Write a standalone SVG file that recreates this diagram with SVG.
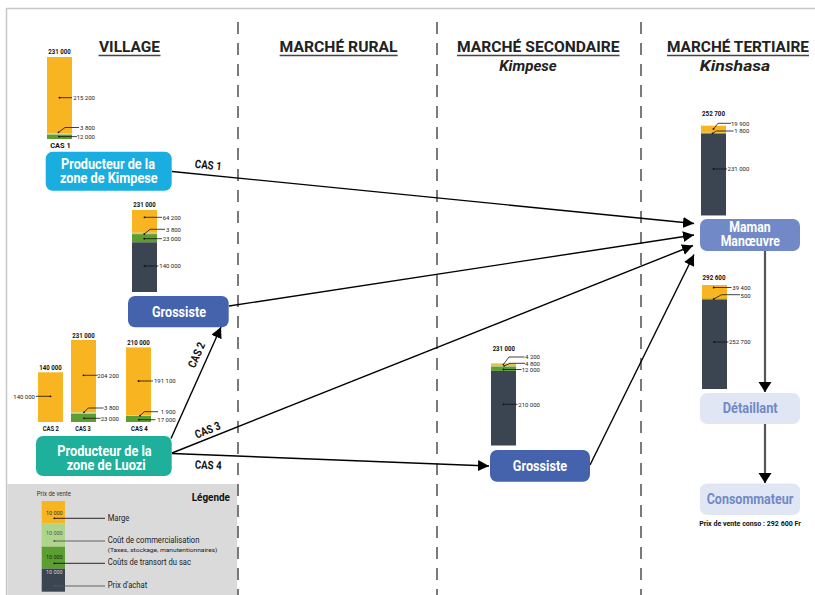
<svg xmlns="http://www.w3.org/2000/svg" width="815" height="595" viewBox="0 0 815 595">
<defs>
<style>
text{font-family:Roboto,"Liberation Sans",sans-serif}
.h{font-weight:700;font-size:15.5px;fill:#222;text-anchor:middle}
.hi{font-weight:700;font-style:italic;font-size:14.5px;fill:#222;text-anchor:middle}
.ul{stroke:#444;stroke-width:1.6}
.nt{font-weight:700;font-size:14px;fill:#fff;text-anchor:middle}
.nl{font-weight:700;font-size:14px;fill:#7189c6;text-anchor:middle}
.num{font-size:6px;fill:#222;text-anchor:end}
.tot{font-size:6.8px;font-weight:700;fill:#111;text-anchor:middle}
.cs{font-size:7px;font-weight:700;fill:#111;text-anchor:middle}
.cas{font-size:11.5px;font-weight:700;fill:#111;text-anchor:middle}
.ld{stroke:#111;stroke-width:0.8;fill:none}
.dt{fill:#111}
.or{fill:#f8b521}
.lg{fill:#afd48c}
.gr{fill:#5c9e31}
.dk{fill:#3b4451}
.dash{stroke:#333;stroke-width:1.3;stroke-dasharray:12 9}
.con{stroke:#000;stroke-width:1.4;fill:none}
.vcon{stroke:#555;stroke-width:2.2;fill:none}
.lt{font-size:8.5px;fill:#222}
.lv{font-size:5.5px;text-anchor:middle}
</style>
<marker id="ah" markerUnits="userSpaceOnUse" markerWidth="12" markerHeight="12" refX="11" refY="5.5" orient="auto" viewBox="0 0 12 12">
<path d="M0,0 L11,5.5 L0,11 z" fill="#000"/>
</marker>
<marker id="ahv" markerUnits="userSpaceOnUse" markerWidth="13" markerHeight="14" refX="10" refY="6.5" orient="auto" viewBox="0 0 13 14">
<path d="M0,0 L10,6.5 L0,13 z" fill="#000"/>
</marker>
</defs>

<rect x="0" y="0" width="815" height="595" fill="#fff"/>
<rect x="6.5" y="8.5" width="830" height="600" fill="#fff" stroke="#c8c8c8" stroke-width="1.5"/>
<rect x="7.2" y="484" width="230" height="112" fill="#dadada"/>

<g id="separators">
<line class="dash" x1="238" y1="22" x2="238" y2="595"/>
<line class="dash" x1="437" y1="22" x2="437" y2="595"/>
<line class="dash" x1="641" y1="22" x2="641" y2="595"/>
</g>

<g id="headers">
<text class="h" x="129.5" y="52" textLength="61" lengthAdjust="spacingAndGlyphs">VILLAGE</text>
<line class="ul" x1="98.5" y1="55.5" x2="160.5" y2="55.5"/>
<text class="h" x="338.6" y="52" textLength="118" lengthAdjust="spacingAndGlyphs">MARCHÉ RURAL</text>
<line class="ul" x1="279.6" y1="55.5" x2="397.7" y2="55.5"/>
<text class="h" x="538.3" y="52" textLength="162.5" lengthAdjust="spacingAndGlyphs">MARCHÉ SECONDAIRE</text>
<line class="ul" x1="457" y1="55.5" x2="619.5" y2="55.5"/>
<text class="hi" x="528" y="70.5" textLength="57.5" lengthAdjust="spacingAndGlyphs">Kimpese</text>
<text class="h" x="738" y="52" textLength="142" lengthAdjust="spacingAndGlyphs">MARCHÉ TERTIAIRE</text>
<line class="ul" x1="667" y1="55.5" x2="809" y2="55.5"/>
<text class="hi" x="735" y="70.5" textLength="70.5" lengthAdjust="spacingAndGlyphs">Kinshasa</text>
</g>

<g id="bar-cas1">
<rect class="or" x="47" y="57" width="25" height="76.4"/>
<rect class="lg" x="47" y="133.4" width="25" height="1.35"/>
<rect class="gr" x="47" y="134.75" width="25" height="4.25"/>
<text class="tot" x="59.5" y="54" textLength="22.3" lengthAdjust="spacingAndGlyphs">231 000</text>
<text class="cs" x="60.5" y="148" textLength="20.6" lengthAdjust="spacingAndGlyphs">CAS 1</text>
<circle class="dt" cx="59.5" cy="97.7" r="0.9"/><path class="ld" d="M59.5,97.7 H72"/>
<text class="num" x="95" y="100">215 200</text>
<circle class="dt" cx="58.5" cy="132.3" r="0.9"/><path class="ld" d="M58.5,132.3 L65,127.5 H79"/>
<text class="num" x="95" y="129.8">3 800</text>
<circle class="dt" cx="59" cy="136.6" r="0.9"/><path class="ld" d="M59,136.6 H77"/>
<text class="num" x="95" y="138.8">12 000</text>
</g>

<g id="bar-grossiste-village">
<rect class="or" x="132" y="210" width="25" height="22.8"/>
<rect class="lg" x="132" y="232.8" width="25" height="1.35"/>
<rect class="gr" x="132" y="234.15" width="25" height="8.15"/>
<rect class="dk" x="132" y="242.3" width="25" height="49.7"/>
<text class="tot" x="144.5" y="207" textLength="22.3" lengthAdjust="spacingAndGlyphs">231 000</text>
<circle class="dt" cx="144.5" cy="217.3" r="0.9"/><path class="ld" d="M144.5,217.3 H162"/>
<text class="num" x="181" y="219.5">64 200</text>
<circle class="dt" cx="144.3" cy="234" r="0.9"/><path class="ld" d="M144.3,234 L150,229.3 H165"/>
<text class="num" x="181" y="231.5">3 800</text>
<circle class="dt" cx="144.3" cy="238.7" r="0.9"/><path class="ld" d="M144.3,238.7 H162"/>
<text class="num" x="181" y="241">23 000</text>
<circle class="dt" cx="144.5" cy="266" r="0.9"/><path class="ld" d="M144.5,266 H158.5"/>
<text class="num" x="181" y="268.2">140 000</text>
</g>

<g id="bar-cas2">
<rect class="or" x="38" y="372.3" width="25" height="49.7"/>
<text class="tot" x="50.5" y="369.7" textLength="22.3" lengthAdjust="spacingAndGlyphs">140 000</text>
<text class="cs" x="50.8" y="431" textLength="16.3" lengthAdjust="spacingAndGlyphs">CAS 2</text>
<circle class="dt" cx="50.5" cy="396.3" r="0.9"/><path class="ld" d="M50.5,396.3 H35.8"/>
<text class="num" x="35" y="398.5">140 000</text>
</g>

<g id="bar-cas3">
<rect class="or" x="71" y="340" width="25" height="72.5"/>
<rect class="lg" x="71" y="412.5" width="25" height="1.35"/>
<rect class="gr" x="71" y="413.85" width="25" height="8.15"/>
<text class="tot" x="83.5" y="337.5" textLength="22.3" lengthAdjust="spacingAndGlyphs">231 000</text>
<text class="cs" x="83" y="431" textLength="15.4" lengthAdjust="spacingAndGlyphs">CAS 3</text>
<circle class="dt" cx="83.5" cy="375.3" r="0.9"/><path class="ld" d="M83.5,375.3 H97.5"/>
<text class="num" x="119" y="377.5">204 200</text>
<circle class="dt" cx="84" cy="412.3" r="0.9"/><path class="ld" d="M84,412.3 L88.3,408 H103.5"/>
<text class="num" x="119" y="410.2">3 800</text>
<circle class="dt" cx="84" cy="418.3" r="0.9"/><path class="ld" d="M84,418.3 H100.5"/>
<text class="num" x="119" y="420.5">23 000</text>
</g>

<g id="bar-cas4">
<rect class="or" x="126" y="347.4" width="25" height="67.9"/>
<rect class="lg" x="126" y="415.3" width="25" height="0.7"/>
<rect class="gr" x="126" y="416" width="25" height="6"/>
<text class="tot" x="138.5" y="345" textLength="22.3" lengthAdjust="spacingAndGlyphs">210 000</text>
<text class="cs" x="139.3" y="431" textLength="16.7" lengthAdjust="spacingAndGlyphs">CAS 4</text>
<circle class="dt" cx="138.5" cy="381" r="0.9"/><path class="ld" d="M138.5,381 H153"/>
<text class="num" x="175.7" y="383.2">191 100</text>
<circle class="dt" cx="140" cy="415.7" r="0.9"/><path class="ld" d="M140,415.7 L144.3,411.7 H158"/>
<text class="num" x="175.7" y="414">1 900</text>
<circle class="dt" cx="139" cy="419.7" r="0.9"/><path class="ld" d="M139,419.7 H155.5"/>
<text class="num" x="175.7" y="422">17 000</text>
</g>

<g id="bar-grossiste-secondaire">
<rect class="or" x="491" y="363.4" width="25" height="1.5"/>
<rect class="lg" x="491" y="364.9" width="25" height="1.7"/>
<rect class="gr" x="491" y="366.6" width="25" height="4.3"/>
<rect class="dk" x="491" y="370.9" width="25" height="74.6"/>
<text class="tot" x="503.8" y="351" textLength="22.3" lengthAdjust="spacingAndGlyphs">231 000</text>
<circle class="dt" cx="503.3" cy="364.6" r="0.8"/><path class="ld" d="M503.3,364.6 L509,357 H524.5"/>
<text class="num" x="540" y="359">4 200</text>
<circle class="dt" cx="504" cy="366" r="0.8"/><path class="ld" d="M504,366 L510,363.3 H525"/>
<text class="num" x="540" y="365.5">4 800</text>
<circle class="dt" cx="503.5" cy="369.5" r="0.9"/><path class="ld" d="M503.5,369.5 H521.5"/>
<text class="num" x="540" y="371.7">12 000</text>
<circle class="dt" cx="503.5" cy="404.3" r="0.9"/><path class="ld" d="M503.5,404.3 H517.5"/>
<text class="num" x="540" y="406.5">210 000</text>
</g>

<g id="bar-maman">
<rect class="or" x="701" y="125.7" width="25" height="7.1"/>
<rect class="lg" x="701" y="132.8" width="25" height="0.65"/>
<rect class="dk" x="701" y="133.45" width="25" height="82"/>
<text class="tot" x="713.5" y="116" textLength="23" lengthAdjust="spacingAndGlyphs">252 700</text>
<circle class="dt" cx="713.5" cy="129" r="0.9"/><path class="ld" d="M713.5,129 L718,123.3 H731"/>
<text class="num" x="749.3" y="125.5">19 900</text>
<circle class="dt" cx="712.5" cy="133.3" r="0.9"/><path class="ld" d="M712.5,133.3 L716.7,131 H733.5"/>
<text class="num" x="749.3" y="133.2">1 800</text>
<circle class="dt" cx="713.5" cy="169" r="0.9"/><path class="ld" d="M713.5,169 H727"/>
<text class="num" x="749.3" y="171.2">231 000</text>
</g>

<g id="bar-detaillant">
<rect class="or" x="702" y="285" width="25" height="14.2"/>
<rect class="gr" x="702" y="298.8" width="25" height="0.8"/>
<rect class="dk" x="702" y="299.6" width="25" height="89.4"/>
<text class="tot" x="714" y="279.5" textLength="23" lengthAdjust="spacingAndGlyphs">292 600</text>
<circle class="dt" cx="713.7" cy="287.5" r="0.9"/><path class="ld" d="M713.7,287.5 H731.5"/>
<text class="num" x="750.7" y="289.8">39 400</text>
<circle class="dt" cx="713.7" cy="299" r="0.9"/><path class="ld" d="M713.7,299 L721.7,294.7 H740"/>
<text class="num" x="750.7" y="297.8">500</text>
<circle class="dt" cx="714" cy="342" r="0.9"/><path class="ld" d="M714,342 H728.5"/>
<text class="num" x="750.7" y="344.2">252 700</text>
</g>

<g id="connectors">
<line class="con" x1="172" y1="171.5" x2="694" y2="223.5" marker-end="url(#ah)"/>
<line class="con" x1="229" y1="306" x2="694" y2="235" marker-end="url(#ah)"/>
<line class="con" x1="171" y1="438.5" x2="221" y2="327" marker-end="url(#ah)"/>
<line class="con" x1="172" y1="453" x2="693" y2="245.5" marker-end="url(#ah)"/>
<line class="con" x1="172" y1="453.5" x2="489" y2="466" marker-end="url(#ah)"/>
<line class="con" x1="590" y1="465" x2="694" y2="254.5" marker-end="url(#ah)"/>
<line class="vcon" x1="765" y1="251" x2="765" y2="392" marker-end="url(#ahv)"/>
<line class="vcon" x1="765" y1="424" x2="765" y2="483" marker-end="url(#ahv)"/>
<text class="cas" x="208.3" y="169" transform="rotate(5.7 208.3 165)" textLength="26.7" lengthAdjust="spacingAndGlyphs">CAS 1</text>
<text class="cas" x="196.5" y="359" transform="rotate(-66 196.5 355)" textLength="26.5" lengthAdjust="spacingAndGlyphs">CAS 2</text>
<text class="cas" x="207.5" y="434" transform="rotate(-21.8 207.5 430)" textLength="26.5" lengthAdjust="spacingAndGlyphs">CAS 3</text>
<text class="cas" x="208.3" y="469" transform="rotate(2.2 208.3 465)" textLength="26.7" lengthAdjust="spacingAndGlyphs">CAS 4</text>
</g>

<g id="producteur-kimpese">
<rect x="45.7" y="151.7" width="126" height="39" rx="7" fill="#19aedf"/>
<text class="nt" x="108" y="169" textLength="94" lengthAdjust="spacingAndGlyphs">Producteur de la</text>
<text class="nt" x="108.8" y="183.3" textLength="97.7" lengthAdjust="spacingAndGlyphs">zone de Kimpese</text>
</g>

<g id="grossiste-village">
<rect x="128" y="296" width="100.7" height="31.3" rx="7" fill="#4562ac"/>
<text class="nt" x="179" y="316.5" textLength="54" lengthAdjust="spacingAndGlyphs">Grossiste</text>
</g>

<g id="producteur-luozi">
<rect x="36" y="436" width="135.7" height="40" rx="7" fill="#1eb09a"/>
<text class="nt" x="104.5" y="455.5" textLength="94.3" lengthAdjust="spacingAndGlyphs">Producteur de la</text>
<text class="nt" x="106.2" y="469.8" textLength="79" lengthAdjust="spacingAndGlyphs">zone de Luozi</text>
</g>

<g id="grossiste-secondaire">
<rect x="490" y="450" width="100" height="31.7" rx="7" fill="#4562ac"/>
<text class="nt" x="540" y="470.5" textLength="54.3" lengthAdjust="spacingAndGlyphs">Grossiste</text>
</g>

<g id="maman-manoeuvre">
<rect x="700" y="219" width="100" height="32" rx="7" fill="#7189c6"/>
<text class="nt" x="750" y="232" font-size="13.5" textLength="41.3" lengthAdjust="spacingAndGlyphs">Maman</text>
<text class="nt" x="750.3" y="246" font-size="13.5" textLength="59.3" lengthAdjust="spacingAndGlyphs">Manœuvre</text>
</g>

<g id="detaillant">
<rect x="700" y="393" width="100" height="31" rx="7" fill="#e0e6f3"/>
<text class="nl" x="750.2" y="413" textLength="55" lengthAdjust="spacingAndGlyphs">Détaillant</text>
</g>

<g id="consommateur">
<rect x="700" y="483.5" width="100" height="31.5" rx="7" fill="#e0e6f3"/>
<text class="nl" x="750" y="503.5" textLength="86.6" lengthAdjust="spacingAndGlyphs">Consommateur</text>
<text x="750" y="526" font-size="8" font-weight="700" fill="#111" text-anchor="middle" textLength="101.7" lengthAdjust="spacingAndGlyphs">Prix de vente conso : 292 600 Fr</text>
</g>

<g id="legende">
<text x="36.7" y="495.5" font-size="6.5" fill="#333" textLength="34.3" lengthAdjust="spacingAndGlyphs">Prix de vente</text>
<text x="230" y="501" font-size="11.5" font-weight="700" fill="#111" text-anchor="end" textLength="38.3" lengthAdjust="spacingAndGlyphs">Légende</text>
<rect class="or" x="41.7" y="501" width="23.3" height="22.3"/>
<rect class="lg" x="41.7" y="523.3" width="23.3" height="23.4"/>
<rect class="gr" x="41.7" y="546.7" width="23.3" height="22"/>
<rect class="dk" x="41.7" y="568.7" width="23.3" height="23"/>
<text class="lv" x="54.3" y="515.3" fill="#333">10 000</text>
<text class="lv" x="54.3" y="535.3" fill="#555">10 000</text>
<text class="lv" x="54.3" y="558.5" fill="#1a2a10">10 000</text>
<text class="lv" x="54.3" y="574" fill="#cfd3d8">10 000</text>
<circle class="dt" cx="54.3" cy="518.3" r="0.9"/><path d="M54.3,518.3 H105" stroke="#111" stroke-width="0.9"/>
<circle fill="#555" cx="54.3" cy="541" r="0.9"/><path d="M54.3,541 H105" stroke="#555" stroke-width="0.9"/>
<circle class="dt" cx="54.3" cy="563.3" r="0.9"/><path d="M54.3,563.3 H105" stroke="#111" stroke-width="0.9"/>
<circle fill="#555" cx="54.3" cy="586" r="0.9"/><path d="M54.3,586 H105" stroke="#555" stroke-width="0.9"/>
<text class="lt" x="107.7" y="520.5" textLength="21.6" lengthAdjust="spacingAndGlyphs">Marge</text>
<text class="lt" x="107.7" y="543" textLength="91.7" lengthAdjust="spacingAndGlyphs">Coût de commercialisation</text>
<text x="107.7" y="551.5" font-size="6" fill="#222" textLength="109.7" lengthAdjust="spacingAndGlyphs">(Taxes, stockage, manutentionnaires)</text>
<text class="lt" x="107.7" y="565" textLength="83.3" lengthAdjust="spacingAndGlyphs">Coûts de transort du sac</text>
<text class="lt" x="107.7" y="588" textLength="39.6" lengthAdjust="spacingAndGlyphs">Prix d'achat</text>
</g>
</svg>
